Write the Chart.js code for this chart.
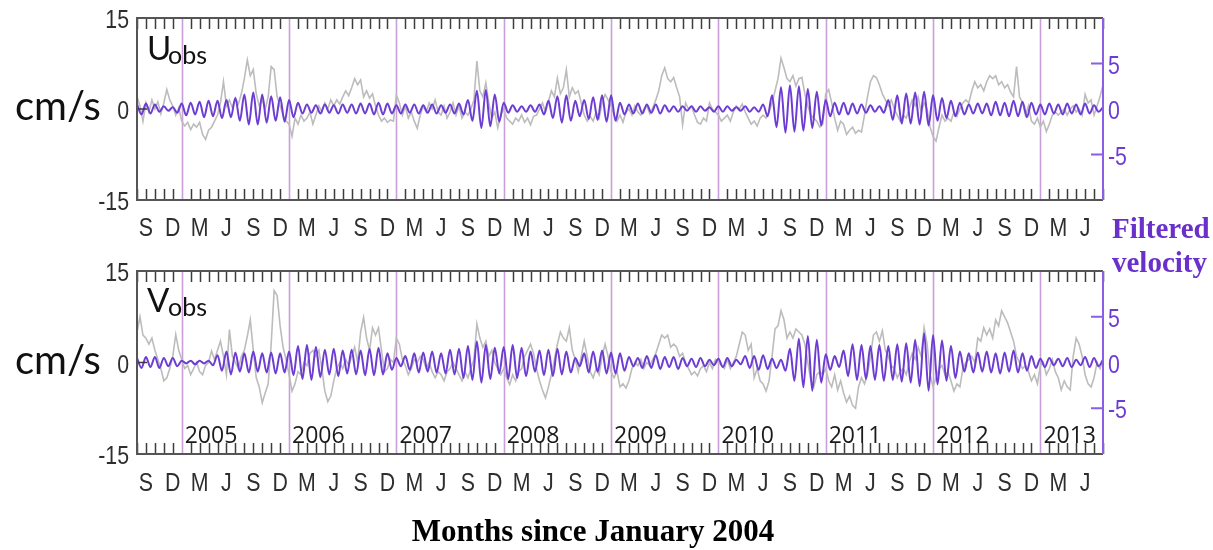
<!DOCTYPE html>
<html>
<head>
<meta charset="utf-8">
<script src="https://cdn.jsdelivr.net/npm/chart.js@4.4.1/dist/chart.umd.min.js"></script>
<style>
  body { margin: 0; background: #fff; }
  #wrap { position: relative; width: 1213px; height: 550px; overflow: hidden; }
  .panel { position: absolute; left: 0; width: 1213px; }
</style>
</head>
<body>
<div id="wrap">
  <div class="panel" style="top:0"><canvas id="chartU" width="1213" height="250"></canvas></div>
  <div class="panel" style="top:250px"><canvas id="chartV" width="1213" height="300"></canvas></div>
</div>
<script>
// months counted from January 2004 (0 = Jan 2004)
const startMonth = 7;
const endMonth = 115;
const obsStep = 1 / 3;   // observed series: three samples per month
const filtStep = 0.5;    // filtered series: crest / trough every half month

const monthLetters = ['J', 'F', 'M', 'A', 'M', 'J', 'J', 'A', 'S', 'O', 'N', 'D'];
const yearStarts = [12, 24, 36, 48, 60, 72, 84, 96, 108];
const yearNames = ['2005', '2006', '2007', '2008', '2009', '2010', '2011', '2012', '2013'];
const obsTicks = [-15, 0, 15];
const filtTicks = [-5, 0, 5];

// U component, cm/s
const uObs = [
  2.0, 0.5, -2.0, 1.0, -0.5, 1.5, 0.0, 1.2, -0.8, 1.0, 3.2, 1.5,
  0.5, -1.0, 0.2, -2.0, -2.8, -2.2, -3.4, -2.5, -3.0, -2.2, -4.2, -5.0,
  -3.5, -3.0, -2.0, -1.0, 1.0, 4.5, 0.5, 1.5, 0.2, 1.8, 0.8, 2.5,
  5.0, 8.1, 5.5, 6.5, 2.5, 0.5, 1.5, 0.0, 2.0, 7.0, 6.5, 2.0,
  0.5, -1.0, -2.0, -2.5, -4.5, -1.5, -2.5, -1.0, -2.0, -1.5, -0.5, -2.5,
  -1.0, 0.5, -0.5, 1.0, 0.0, 1.5, 0.5, 1.5, 0.8, 2.0, 3.0, 2.2,
  3.5, 5.0, 4.0, 4.8, 2.0, 3.0, 1.8, 2.5, 0.5, -1.0, -2.0, -1.5,
  -2.2, -1.8, -2.0, 2.3, 1.0, -1.0, 0.5, -1.5, -0.5, -2.0, -3.2, -1.0,
  0.5, -0.5, 1.0, 0.0, 1.5, -0.5, -1.0, 0.5, -1.5, -0.5, 1.0, -1.0,
  0.5, -1.5, -0.5, -1.0, 0.0, 1.5, 7.9, 3.0, 2.0, 4.3, 1.0, -1.5,
  -0.5, -3.1, -1.0, 0.0, -1.5, -2.0, -2.5, -1.5, -2.0, -1.0, -2.2, -1.5,
  -2.6, -1.2, -1.0, 0.0, 1.0, -0.5, 1.2, 3.0, 2.0, 5.1, 2.5, 3.5,
  6.5, 2.0, 3.5, 2.5, 3.0, 1.0, -1.0, -2.0, -1.2, -2.0, -0.5, -1.5,
  1.0, 2.4, 1.5, 0.5, -1.0, -2.0, -1.0, -2.2, -0.5, 0.0, -1.0, 0.5,
  -0.5, -1.0, 0.0, 0.5, -0.8, 0.2, 1.5, 3.0, 5.5, 6.8, 5.0, 4.5,
  5.2, 3.5, 2.0, -2.6, 1.0, 0.0, 0.5, -1.0, -2.2, -2.5, -1.5, -2.0,
  1.0, 0.0, -0.5, -1.0, -2.0, -1.5, -1.0, -2.0, -0.5, 0.5, 0.0, 0.8,
  -0.5, -1.5, -2.5, -2.0, -2.8, -1.5, -1.0, -1.5, -0.5, 1.0, 3.0, 5.0,
  8.4, 6.8, 5.0, 4.5, 5.5, 3.8, 5.0, 5.2, 2.5, 0.5, -1.0, -1.5,
  -2.0, -3.0, -2.5, 2.5, 3.2, 1.0, -1.5, -3.5, -2.0, -2.5, -4.2, -3.5,
  -3.0, -4.0, -3.5, -3.8, -1.0, 2.0, 4.5, 5.5, 5.2, 4.0, 2.5, 1.5,
  0.5, 1.5, 0.0, -1.0, -2.0, -1.0, -1.5, 0.0, 1.5, 0.5, 2.0, -0.5,
  1.0, 0.0, -3.0, -4.5, -5.3, -3.0, -1.0, -2.0, -1.5, -2.0, -0.5, -1.2,
  0.0, 1.0, 1.5, 1.0, 3.0, 4.5, 3.5, 4.0, 3.0, 4.5, 5.5, 5.0,
  5.5, 4.0, 4.5, 3.5, 4.0, 2.8, 2.0, 7.0, 2.0, 1.0, -1.0, 0.5,
  -2.0, -2.5, -1.5, -3.0, -2.0, -3.7, -2.5, -1.0, -0.5, -1.0, -0.5, 0.0,
  -1.0, 0.0, 0.5, -0.5, 0.0, -1.0, 2.4, 1.0, 1.5, -1.0, 0.5, 2.0,
  4.0
];

const uFilt = [
  0.5, -0.6, 0.6, -0.5, 0.5, -0.3, 0.3, -0.2, 0.2, -0.4,
  0.6, -0.7, 0.7, -0.6, 0.8, -0.9, 0.9, -0.8, 0.9, -1.0, 1.0, -0.9,
  1.2, -1.3, 1.6, -1.7, 1.8, -1.7, 1.6, -1.5, 1.4, -1.3, 1.3, -1.4,
  1.0, -0.9, 0.7, -0.5, 0.5, -0.4, 0.4, -0.5, 0.5, -0.4, 0.4, -0.5,
  0.5, -0.4, 0.5, -0.5, 0.6, -0.5, 0.6, -0.6, 0.7, -0.6, 0.6, -0.5,
  0.4, -0.5, 0.5, -0.4, 0.5, -0.5, 0.4, -0.4, 0.5, -0.5, 0.4, -0.4,
  0.5, -0.5, 0.6, -0.6, 1.0, -1.3, 2.0, -2.1, 2.1, -1.9, 1.6, -1.4,
  0.7, -0.4, 0.4, -0.3, 0.3, -0.3, 0.4, -0.3, 0.5, -0.6, 0.9, -1.0,
  1.4, -1.5, 1.5, -1.3, 0.9, -0.8, 1.0, -1.1, 1.3, -1.2, 1.5, -1.4,
  1.5, -1.3, 0.7, -0.6, 0.5, -0.5, 0.6, -0.5, 0.5, -0.4, 0.5, -0.5,
  0.4, -0.3, 0.3, -0.3, 0.3, -0.2, 0.3, -0.3, 0.3, -0.2, 0.2, -0.3,
  0.3, -0.3, 0.3, -0.2, 0.2, -0.2, 0.3, -0.3, 0.2, -0.3, 0.5, -0.8,
  1.5, -2.0, 2.4, -2.6, 2.6, -2.5, 2.5, -2.4, 2.2, -2.1, 1.9, -1.8,
  1.0, -0.8, 0.7, -0.6, 0.7, -0.6, 0.6, -0.5, 0.5, -0.4, 0.4, -0.3,
  0.3, -0.4, 1.0, -1.2, 1.5, -1.6, 1.7, -1.6, 1.8, -1.7, 1.9, -1.8,
  1.5, -1.3, 1.2, -1.0, 0.9, -0.8, 0.7, -0.6, 0.5, -0.5, 0.6, -0.5,
  0.6, -0.7, 0.8, -0.7, 0.7, -0.8, 0.9, -0.8, 0.8, -0.9, 0.7, -0.6,
  0.5, -0.6, 0.6, -0.5, 0.5, -0.6, 0.6, -0.5, 0.5, -0.6, 0.6, -0.5,
  0.4, -0.3, 0.2
];

// V component, cm/s
const vObs = [
  5.0, 7.5, 4.5, 4.0, 3.0, 4.0, 2.0, 0.5, -1.0, -3.0, -2.5, -1.0,
  1.0, 4.6, 2.0, 0.5, -1.0, -0.5, -2.0, -1.0, 0.0, -1.5, -2.0, -0.5,
  0.0, 1.9, 0.5, 2.0, 3.5, 1.0, -2.0, 5.4, 1.0, 0.0, -1.0, 1.0,
  2.0, 4.3, 7.0, 2.0, -2.5, -4.0, -6.6, -5.0, -3.5, 3.0, 11.8, 11.0,
  6.0, 2.5, 0.5, -2.0, -4.7, -3.5, -1.5, -2.0, 0.0, -0.5, 1.5, 2.0,
  1.0, 2.0, -1.0, -4.7, -6.4, -5.5, -3.0, -1.0, 0.0, -1.0, 0.5, -0.5,
  1.0, 2.5, 0.0, 5.0, 7.4, 4.0, 2.0, 5.7, 4.5, 5.7, 2.0, -1.5,
  -1.0, 0.5, 0.0, 4.0, 3.0, 0.5, -0.5, -2.0, -1.0, 0.5, 0.0, 1.0,
  0.5, -1.0, 0.0, -1.5, -2.5, -1.5, -2.0, -3.0, -1.5, -1.0, 0.0, -1.0,
  -2.0, -3.0, -1.5, -2.5, -1.0, 0.5, 6.3, 4.0, 2.5, 3.5, 1.0, 2.0,
  0.0, -1.0, -2.0, -1.0, -2.5, -3.6, -2.0, -3.0, -1.5, -1.0, 1.0, 2.0,
  3.0, 1.5, -1.0, -3.0, -4.5, -5.8, -4.0, -2.0, 0.5, 3.0, 5.0, 4.0,
  3.5, 5.7, 2.0, 0.5, -1.5, 1.0, 3.5, 1.0, -1.5, -2.5, -1.0, -2.0,
  1.0, 3.0, 1.0, -1.5, -2.5, -1.5, -4.0, -3.5, -4.2, -3.0, -1.0, 0.0,
  -0.5, 0.5, -1.0, 0.0, -0.5, 0.5, 1.5, 3.0, 4.5, 4.0, 4.5, 2.5,
  3.0, 2.5, 1.0, 1.5, 0.0, -1.0, -2.0, -1.5, -2.2, -1.0, -0.5, -1.5,
  0.0, -1.0, 0.5, 0.0, -0.5, -1.0, 0.5, -1.0, 0.0, 1.0, 3.0, 5.0,
  4.5, 2.0, 3.0, -2.5, -1.0, -3.0, -3.5, -4.7, -3.0, 1.0, 5.5, 6.0,
  8.5, 7.0, 4.0, 5.0, 4.0, 5.5, 5.0, 4.5, 3.0, 0.0, -3.0, -4.0,
  -2.0, -1.5, -2.0, -1.0, -3.0, -4.0, -2.0, -4.5, -3.0, -5.0, -6.5, -5.5,
  -7.0, -7.5, -4.0, -2.5, -3.5, -2.0, 1.0, 4.5, 5.0, 3.5, 5.2, 2.0,
  1.0, -0.5, -1.0, -2.5, -1.5, -1.0, -2.0, 0.0, 1.5, 0.5, 2.5, 1.0,
  5.7, 3.0, -2.0, -4.0, -2.5, -1.0, -0.5, -2.0, -1.5, -3.0, -4.7, -3.5,
  -4.0, -1.0, 0.0, 0.5, 1.0, 0.0, 4.0, 3.5, 5.7, 4.5, 5.5, 4.0,
  7.0, 6.0, 8.5, 7.5, 6.5, 5.0, 3.5, 1.0, 0.0, -1.0, -0.5, -1.5,
  -3.0, -2.0, -3.5, -0.5, 0.0, -2.0, -1.0, 0.5, -1.5, -2.5, -4.5, -3.0,
  -4.0, -4.5, 1.0, 4.0, 3.0, 1.0, -2.0, -3.5, -4.0, -2.5, 0.0, -1.0,
  0.5
];

const vFilt = [
  0.5, -0.6, 0.6, -0.5, 0.6, -0.6, 0.5, -0.4, 0.5, -0.4,
  0.2, -0.1, 0.2, -0.2, 0.2, -0.1, 0.2, -0.3, 0.8, -0.9, 1.2, -1.3,
  1.1, -1.0, 1.0, -1.1, 1.2, -1.0, 1.0, -1.1, 1.1, -1.2, 1.0, -1.1,
  1.2, -1.4, 1.8, -1.8, 1.9, -1.9, 1.7, -1.6, 1.4, -1.3, 1.5, -1.5,
  1.3, -1.2, 1.4, -1.3, 1.3, -1.4, 1.5, -1.4, 1.6, -1.3, 1.0, -0.8,
  0.5, -0.4, 0.7, -0.8, 1.0, -1.1, 1.1, -1.0, 1.2, -1.1, 1.0, -1.2,
  1.4, -1.3, 1.5, -1.7, 1.8, -1.9, 2.3, -2.2, 1.9, -1.8, 1.6, -1.2,
  1.7, -1.8, 1.9, -1.7, 1.6, -1.5, 1.2, -1.0, 1.3, -1.4, 1.4, -1.5,
  1.5, -1.3, 1.2, -1.1, 0.5, -0.4, 1.0, -1.1, 1.2, -1.0, 1.3, -1.2,
  1.1, -1.2, 1.0, -0.9, 0.6, -0.4, 0.5, -0.6, 0.7, -0.6, 0.8, -0.7,
  0.6, -0.5, 0.6, -0.7, 0.5, -0.4, 0.4, -0.5, 0.5, -0.4, 0.3, -0.3,
  0.4, -0.5, 0.5, -0.4, 0.3, -0.2, 0.7, -0.6, 0.7, -0.8, 0.8, -0.7,
  0.4, -0.6, 0.3, -0.9, 1.5, -2.0, 2.6, -2.7, 2.9, -3.1, 2.5, -2.2,
  0.9, -0.8, 0.7, -0.5, 1.3, -1.5, 2.0, -1.9, 1.9, -1.8, 1.8, -1.9,
  1.9, -2.0, 1.8, -1.9, 2.0, -2.1, 2.1, -2.2, 2.5, -2.6, 3.2, -3.1,
  3.0, -2.4, 2.4, -2.0, 1.8, -1.7, 1.2, -1.0, 1.0, -1.1, 1.1, -1.0,
  1.2, -1.1, 1.0, -1.2, 1.1, -1.0, 1.3, -1.1, 1.0, -0.9, 0.7, -0.6,
  0.4, -0.5, 0.5, -0.3, 0.4, -0.4, 0.5, -0.5, 0.3, -0.3, 0.6, -0.5,
  0.5, -0.4, 0.3
];

const purple = '#6d3dd3';
const tickFont = "26px 'Liberation Sans', Arial, sans-serif";
const squeeze = 0.82;   // narrow the tick lettering horizontally

// text drawn with a horizontal squeeze around its anchor point
function narrowText(ctx, text, px, py, align) {
  ctx.save();
  ctx.translate(px, py);
  ctx.scale(squeeze, 1);
  ctx.textAlign = align;
  ctx.fillText(text, 0, 0);
  ctx.restore();
}

function makePanel(id, obs, filt, cfg) {
  const obsPts = obs.map((v, i) => ({ x: startMonth + i * obsStep, y: v }));
  const filtPts = filt.map((v, i) => ({ x: startMonth + i * filtStep, y: v }));

  const decor = {
    id: 'decor',
    beforeDatasetsDraw(chart) {
      const { ctx, chartArea: a, scales: { x } } = chart;
      ctx.save();
      ctx.strokeStyle = '#c99fda';
      ctx.lineWidth = 1.6;
      yearStarts.forEach(m => {
        const px = Math.round(x.getPixelForValue(m)) + 0.5;
        ctx.beginPath();
        ctx.moveTo(px, a.top);
        ctx.lineTo(px, a.bottom);
        ctx.stroke();
      });
      ctx.restore();
    },
    afterDatasetsDraw(chart) {
      const { ctx, chartArea: a, scales: { x, y, y2 } } = chart;
      ctx.save();
      // monthly ticks along the top and bottom edges, pointing inwards
      ctx.strokeStyle = '#3c3c3c';
      ctx.lineWidth = 1.5;
      x.ticks.forEach(t => {
        if (yearStarts.includes(t.value)) return;
        const px = Math.round(x.getPixelForValue(t.value)) + 0.5;
        ctx.beginPath();
        ctx.moveTo(px, a.top); ctx.lineTo(px, a.top + 11);
        ctx.moveTo(px, a.bottom); ctx.lineTo(px, a.bottom - 11);
        ctx.stroke();
      });
      const y0 = y.getPixelForValue(0);
      ctx.beginPath();
      ctx.moveTo(a.left, y0); ctx.lineTo(a.left + 10, y0);
      ctx.stroke();
      // frame
      ctx.strokeStyle = '#555';
      ctx.lineWidth = 2;
      ctx.beginPath();
      ctx.moveTo(a.right, a.top); ctx.lineTo(a.left, a.top);
      ctx.lineTo(a.left, a.bottom); ctx.lineTo(a.right, a.bottom);
      ctx.stroke();
      // filtered-velocity axis on the right
      ctx.strokeStyle = '#8a5ee6';
      ctx.beginPath();
      ctx.moveTo(a.right, a.top); ctx.lineTo(a.right, a.bottom);
      [-5, 5].forEach(v => {
        const py = y2.getPixelForValue(v);
        ctx.moveTo(a.right - 12, py); ctx.lineTo(a.right, py);
      });
      ctx.stroke();
      ctx.restore();
    },
    afterDraw(chart) {
      const { ctx, chartArea: a, scales: { x, y, y2 } } = chart;
      const y0 = y.getPixelForValue(0);
      ctx.save();
      ctx.textBaseline = 'alphabetic';

      // tick labels
      ctx.font = tickFont;
      ctx.fillStyle = '#2e2e2e';
      x.ticks.forEach(t => {
        const m = Math.round(t.value);
        if (m % 3 !== 2) return;
        narrowText(ctx, monthLetters[m % 12], x.getPixelForValue(m), a.bottom + cfg.labelDy, 'center');
      });
      obsTicks.forEach(v => {
        narrowText(ctx, String(v), a.left - 8, y.getPixelForValue(v) + 10, 'right');
      });
      ctx.fillStyle = purple;
      filtTicks.forEach(v => {
        narrowText(ctx, String(v), a.right + 5, y2.getPixelForValue(v) + 10, 'left');
      });

      ctx.textAlign = 'left';
      ctx.fillStyle = '#111';
      ctx.font = '40px Lato, sans-serif';
      ctx.fillText('cm/s', 15, y0 + 11);
      ctx.font = '33px Lato, sans-serif';
      ctx.fillText(cfg.name, a.left + 10, a.top + cfg.nameDy);
      ctx.font = '25px Lato, sans-serif';
      ctx.fillText('obs', a.left + 31, a.top + cfg.nameDy + 4);
      if (cfg.years) {
        ctx.fillStyle = '#1a1a1a';
        ctx.font = "23px 'Open Sans', sans-serif";
        yearStarts.forEach((m, i) => {
          ctx.fillText(yearNames[i], x.getPixelForValue(m) + 3, a.bottom - 11);
        });
      }
      ctx.fillStyle = '#6a30cc';
      ctx.font = "bold 29px 'Liberation Serif', 'Times New Roman', serif";
      ctx.fillText(cfg.side, 1112, cfg.sideY);
      if (cfg.title) {
        ctx.fillStyle = '#000';
        ctx.textAlign = 'center';
        ctx.font = "bold 31px 'Liberation Serif', 'Times New Roman', serif";
        ctx.fillText(cfg.title, 593, cfg.titleY);
      }
      ctx.restore();
    }
  };

  return new Chart(document.getElementById(id), {
    type: 'line',
    data: {
      datasets: [
        { data: filtPts, yAxisID: 'y2', borderColor: purple, borderWidth: 2, pointRadius: 0,
          cubicInterpolationMode: 'monotone' },
        { data: obsPts, yAxisID: 'y', borderColor: '#bcbcbc', borderWidth: 1.6, pointRadius: 0,
          tension: 0 }
      ]
    },
    options: {
      responsive: false,
      animation: false,
      events: [],
      layout: { padding: { top: cfg.padTop, left: 0, right: 0, bottom: 0 } },
      plugins: { legend: { display: false }, tooltip: { enabled: false } },
      scales: {
        x: {
          type: 'linear', min: startMonth, max: endMonth,
          grid: { display: false }, border: { display: false },
          afterFit: s => { s.height = cfg.axisH; },
          ticks: { stepSize: 1, autoSkip: false, display: false }
        },
        y: {
          position: 'left', min: -15, max: 15,
          grid: { display: false }, border: { display: false },
          afterFit: s => { s.width = 137; },
          ticks: { display: false }
        },
        y2: {
          position: 'right', min: -10, max: 10,
          grid: { display: false }, border: { display: false },
          afterFit: s => { s.width = 110; },
          ticks: { display: false }
        }
      }
    },
    plugins: [decor]
  });
}

makePanel('chartU', uObs, uFilt, {
  padTop: 18, axisH: 50, labelDy: 36, name: 'U', nameDy: 42, side: 'Filtered', sideY: 238
});
makePanel('chartV', vObs, vFilt, {
  padTop: 21, axisH: 96, labelDy: 37, name: 'V', nameDy: 41, years: true, side: 'velocity', sideY: 22,
  title: 'Months since January 2004', titleY: 291
});
</script>
</body>
</html>
